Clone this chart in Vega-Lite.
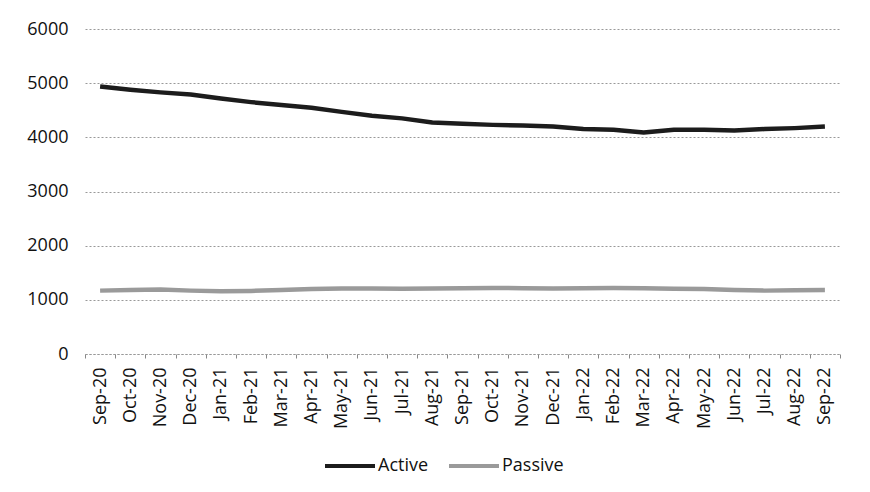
{
  "$schema": "https://vega.github.io/schema/vega-lite/v6.json",
  "width": 755,
  "height": 325,
  "autosize": {"type": "none"},
  "padding": {"left": 85, "top": 29, "right": 30, "bottom": 138},
  "background": "white",
  "config": {
    "view": {"stroke": null},
    "font": "Open Sans",
    "axis": {"labelFont": "Open Sans", "labelColor": "#111", "labelFontSize": 18},
    "legend": {"labelFont": "Open Sans", "labelColor": "#111", "labelFontSize": 18}
  },
  "data": {
    "values": [
      {"month": "Sep-20", "series": "Active", "value": 4940},
      {"month": "Oct-20", "series": "Active", "value": 4880},
      {"month": "Nov-20", "series": "Active", "value": 4830},
      {"month": "Dec-20", "series": "Active", "value": 4790},
      {"month": "Jan-21", "series": "Active", "value": 4715},
      {"month": "Feb-21", "series": "Active", "value": 4650},
      {"month": "Mar-21", "series": "Active", "value": 4595},
      {"month": "Apr-21", "series": "Active", "value": 4545},
      {"month": "May-21", "series": "Active", "value": 4470},
      {"month": "Jun-21", "series": "Active", "value": 4400},
      {"month": "Jul-21", "series": "Active", "value": 4350},
      {"month": "Aug-21", "series": "Active", "value": 4275},
      {"month": "Sep-21", "series": "Active", "value": 4250},
      {"month": "Oct-21", "series": "Active", "value": 4230},
      {"month": "Nov-21", "series": "Active", "value": 4218},
      {"month": "Dec-21", "series": "Active", "value": 4200},
      {"month": "Jan-22", "series": "Active", "value": 4152},
      {"month": "Feb-22", "series": "Active", "value": 4140},
      {"month": "Mar-22", "series": "Active", "value": 4091},
      {"month": "Apr-22", "series": "Active", "value": 4140},
      {"month": "May-22", "series": "Active", "value": 4140},
      {"month": "Jun-22", "series": "Active", "value": 4127},
      {"month": "Jul-22", "series": "Active", "value": 4152},
      {"month": "Aug-22", "series": "Active", "value": 4170},
      {"month": "Sep-22", "series": "Active", "value": 4200},
      {"month": "Sep-20", "series": "Passive", "value": 1170},
      {"month": "Oct-20", "series": "Passive", "value": 1180},
      {"month": "Nov-20", "series": "Passive", "value": 1190},
      {"month": "Dec-20", "series": "Passive", "value": 1170},
      {"month": "Jan-21", "series": "Passive", "value": 1160},
      {"month": "Feb-21", "series": "Passive", "value": 1165},
      {"month": "Mar-21", "series": "Passive", "value": 1180},
      {"month": "Apr-21", "series": "Passive", "value": 1200},
      {"month": "May-21", "series": "Passive", "value": 1210},
      {"month": "Jun-21", "series": "Passive", "value": 1210},
      {"month": "Jul-21", "series": "Passive", "value": 1205},
      {"month": "Aug-21", "series": "Passive", "value": 1210},
      {"month": "Sep-21", "series": "Passive", "value": 1215},
      {"month": "Oct-21", "series": "Passive", "value": 1220},
      {"month": "Nov-21", "series": "Passive", "value": 1215},
      {"month": "Dec-21", "series": "Passive", "value": 1210},
      {"month": "Jan-22", "series": "Passive", "value": 1215},
      {"month": "Feb-22", "series": "Passive", "value": 1220},
      {"month": "Mar-22", "series": "Passive", "value": 1215},
      {"month": "Apr-22", "series": "Passive", "value": 1205},
      {"month": "May-22", "series": "Passive", "value": 1200},
      {"month": "Jun-22", "series": "Passive", "value": 1180},
      {"month": "Jul-22", "series": "Passive", "value": 1170},
      {"month": "Aug-22", "series": "Passive", "value": 1175},
      {"month": "Sep-22", "series": "Passive", "value": 1180}
    ]
  },
  "mark": {"type": "line", "strokeWidth": 4.5, "strokeCap": "butt", "strokeJoin": "round"},
  "encoding": {
    "x": {
      "field": "month",
      "type": "ordinal",
      "sort": null,
      "scale": {"type": "band", "paddingInner": 0, "paddingOuter": 0},
      "axis": {
        "title": null,
        "labelAngle": -90,
        "labelAlign": "right",
        "labelBaseline": "middle",
        "labelPadding": 9,
        "tickBand": "extent",
        "tickSize": 4,
        "tickColor": "#888",
        "domainColor": "#999",
        "domainDash": [2, 2],
        "grid": false
      }
    },
    "y": {
      "field": "value",
      "type": "quantitative",
      "scale": {"domain": [0, 6000], "nice": false},
      "axis": {
        "title": null,
        "format": "d",
        "values": [0, 1000, 2000, 3000, 4000, 5000, 6000],
        "domain": false,
        "ticks": false,
        "labelPadding": 17,
        "gridColor": "#999",
        "gridDash": [2, 2],
        "gridWidth": 1
      }
    },
    "color": {
      "field": "series",
      "type": "nominal",
      "scale": {"domain": ["Active", "Passive"], "range": ["#1c1c1c", "#9a9a9a"]},
      "legend": {
        "title": null,
        "orient": "none",
        "direction": "horizontal",
        "legendX": 238,
        "legendY": 410,
        "symbolType": "stroke",
        "symbolSize": 2500,
        "symbolStrokeWidth": 4,
        "labelOffset": 1,
        "columnPadding": 12
      }
    }
  }
}
